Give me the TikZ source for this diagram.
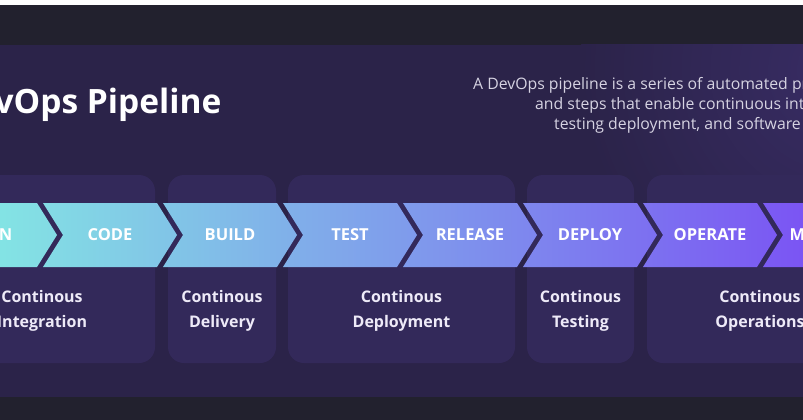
\documentclass[tikz,border=0pt]{standalone}
\usepackage{fontspec}
\setmainfont{Open Sans}
\usetikzlibrary{shapes.symbols,calc}

\definecolor{topband}{HTML}{22212E}
\definecolor{panel}{HTML}{2B2349}
\definecolor{glow}{HTML}{382C64}
\definecolor{boxfill}{HTML}{33295A}
\definecolor{chevA}{HTML}{84F2E2}
\definecolor{chevB}{HTML}{7A45F5}
\definecolor{desctext}{HTML}{D6D3E2}
\definecolor{boxtext}{HTML}{EEEAF8}

\begin{document}
\begin{tikzpicture}[x=1pt,y=-1pt,
  stagebox/.style={fill=boxfill, rounded corners=16pt, minimum height=188pt, inner sep=0pt},
  chev/.style={shape=signal, signal to=east, signal from=west, signal pointer angle=116,
    minimum height=64pt, minimum width=134pt, inner sep=0pt, text=white,
    font=\bfseries\fontsize{16.5}{18}\selectfont},
  phase/.style={align=center, text=boxtext, font=\bfseries\fontsize{16}{25}\selectfont},
  desc/.style={anchor=base west, inner sep=0pt, text=desctext, font=\fontsize{15.8}{18}\selectfont}]
  \useasboundingbox (0,0) rectangle (803,420);
  \clip (0,0) rectangle (803,420);

  \fill[white] (0,0) rectangle (803,5);
  \fill[topband] (0,5) rectangle (803,45);
  \fill[panel] (0,45) rectangle (803,397);
  \fill[topband] (0,397) rectangle (803,420);
  \begin{scope}
    \clip (0,45) rectangle (803,397);
    \shade[inner color=glow, outer color=panel] (840,70) circle (260);
  \end{scope}

  \node[anchor=base east, text=white, font=\bfseries\fontsize{33.5}{40}\selectfont] (title) at (225,113) {DevOps Pipeline};
  \node[desc] (d1) at (473,89) {A DevOps pipeline is a series of automated processes};
  \node[desc] (d2) at (535,109) {and steps that enable continuous integration,};
  \node[desc] (d3) at (554,129) {testing deployment, and software delivery.};

  \node[stagebox, minimum width=226pt] (ci) at (42,269) {};
  \node[stagebox, minimum width=108pt] (cd) at (222,269) {};
  \node[stagebox, minimum width=227pt] (cdep) at (401.5,269) {};
  \node[stagebox, minimum width=107pt] (ct) at (580.5,269) {};
  \node[stagebox, minimum width=226pt] (co) at (760,269) {};

  \foreach \lbl [count=\i from 0] in {PLAN,CODE,BUILD,TEST,RELEASE,DEPLOY,OPERATE,MONITOR} {
    \pgfmathtruncatemacro\pa{100-(120*\i+3)/9.8}
    \pgfmathtruncatemacro\pb{100-(120*\i+137)/9.8}
    \node[chev, left color=chevA!\pa!chevB, right color=chevA!\pb!chevB] (\lbl) at (120*\i-10,235) {\lbl};
  }

  \node[phase] (ci-txt) at (42,311) {Continous\\Integration};
  \node[phase] (cd-txt) at (222,311) {Continous\\Delivery};
  \node[phase] (cdep-txt) at (401.5,311) {Continous\\Deployment};
  \node[phase] (ct-txt) at (580.5,311) {Continous\\Testing};
  \node[phase] (co-txt) at (760,311) {Continous\\Operations};
\end{tikzpicture}
\end{document}
